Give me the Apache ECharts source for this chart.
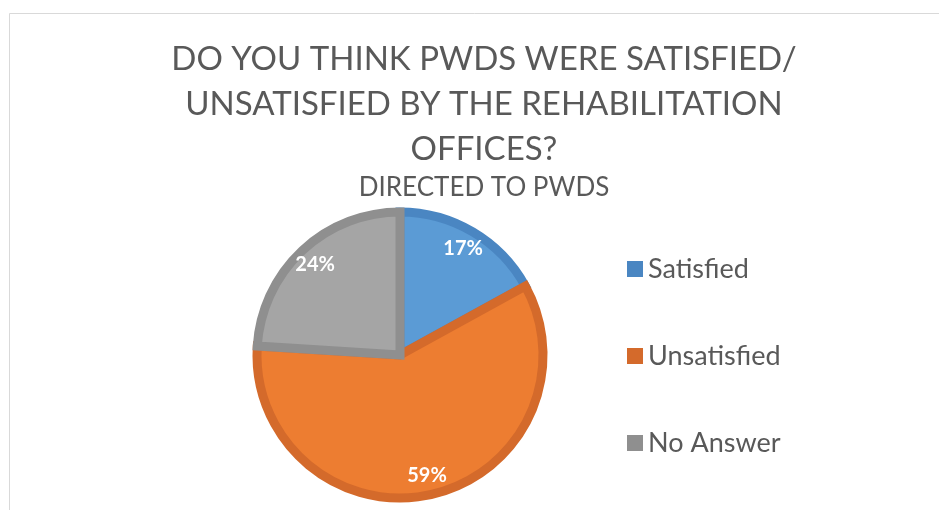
<!DOCTYPE html>
<html>
<head>
<meta charset="utf-8">
<script src="https://cdn.jsdelivr.net/npm/echarts@6/dist/echarts.min.js"></script>
<style>
  html, body { margin: 0; padding: 0; background: #ffffff; }
  #chart { width: 939px; height: 510px; }
</style>
</head>
<body>
<div id="chart"></div>
<script>
// Survey answers (share of respondents, %)
const categories = ['Satisfied', 'Unsatisfied', 'No Answer'];
const shares = [17, 59, 24];
const fillColors = ['#5B9BD5', '#ED7D31', '#A5A5A5'];
const edgeColors = ['#4A86C2', '#D46A2B', '#8F8F8F'];

const titleText = 'DO YOU THINK PWDS WERE SATISFIED/\nUNSATISFIED BY THE REHABILITATION\nOFFICES?';
const subtitleText = 'DIRECTED TO PWDS';

const FONT = 'Lato, "Open Sans", sans-serif';

const sliceData = categories.map((name, i) => ({
  name: name,
  value: shares[i],
  itemStyle: { color: fillColors[i], borderColor: edgeColors[i] }
}));

const labelData = categories.map((name, i) => ({ name: name, value: shares[i] }));

const legendItems = categories.map((name, i) => ({
  name: name,
  itemStyle: { color: edgeColors[i], borderWidth: 0 }
}));

const chart = echarts.init(document.getElementById('chart'), null, { renderer: 'canvas' });

chart.setOption({
  backgroundColor: '#ffffff',
  animation: false,
  title: {
    text: titleText,
    subtext: subtitleText,
    left: 479,
    textAlign: 'center',
    top: 32,
    itemGap: 1,
    textStyle: {
      fontFamily: FONT,
      fontWeight: 'normal',
      fontSize: 33,
      lineHeight: 45,
      color: '#595959'
    },
    subtextStyle: {
      fontFamily: FONT,
      fontSize: 26,
      lineHeight: 30,
      color: '#595959'
    }
  },
  legend: {
    orient: 'vertical',
    left: 622,
    top: 249,
    itemWidth: 16,
    itemHeight: 16,
    itemGap: 57,
    icon: 'rect',
    textStyle: {
      fontFamily: FONT,
      fontSize: 27,
      lineHeight: 30,
      color: '#595959'
    },
    data: legendItems
  },
  graphic: [{
    type: 'rect',
    silent: true,
    shape: { x: 9.5, y: 13.5, width: 1000, height: 600 },
    style: { fill: 'none', stroke: '#D9D9D9', lineWidth: 1 }
  }],
  series: [
    {
      type: 'pie',
      name: 'Answers',
      center: [400, 355],
      radius: [0, 143],
      startAngle: 90,
      clockwise: true,
      data: sliceData,
      itemStyle: { borderWidth: 9, borderJoin: 'miter' },
      label: { show: false },
      labelLine: { show: false },
      emphasis: { disabled: true }
    },
    {
      // label ring: places the percentage labels near the rim
      type: 'pie',
      name: 'Labels',
      center: [400, 355],
      radius: [95, 147],
      startAngle: 90,
      clockwise: true,
      silent: true,
      legendHoverLink: false,
      data: labelData,
      itemStyle: { color: 'rgba(0,0,0,0)', borderWidth: 0 },
      label: {
        show: true,
        position: 'inside',
        formatter: '{c}%',
        fontFamily: FONT,
        fontWeight: 'bold',
        fontSize: 20,
        color: '#ffffff'
      },
      labelLine: { show: false },
      emphasis: { disabled: true }
    }
  ]
});
</script>
</body>
</html>
